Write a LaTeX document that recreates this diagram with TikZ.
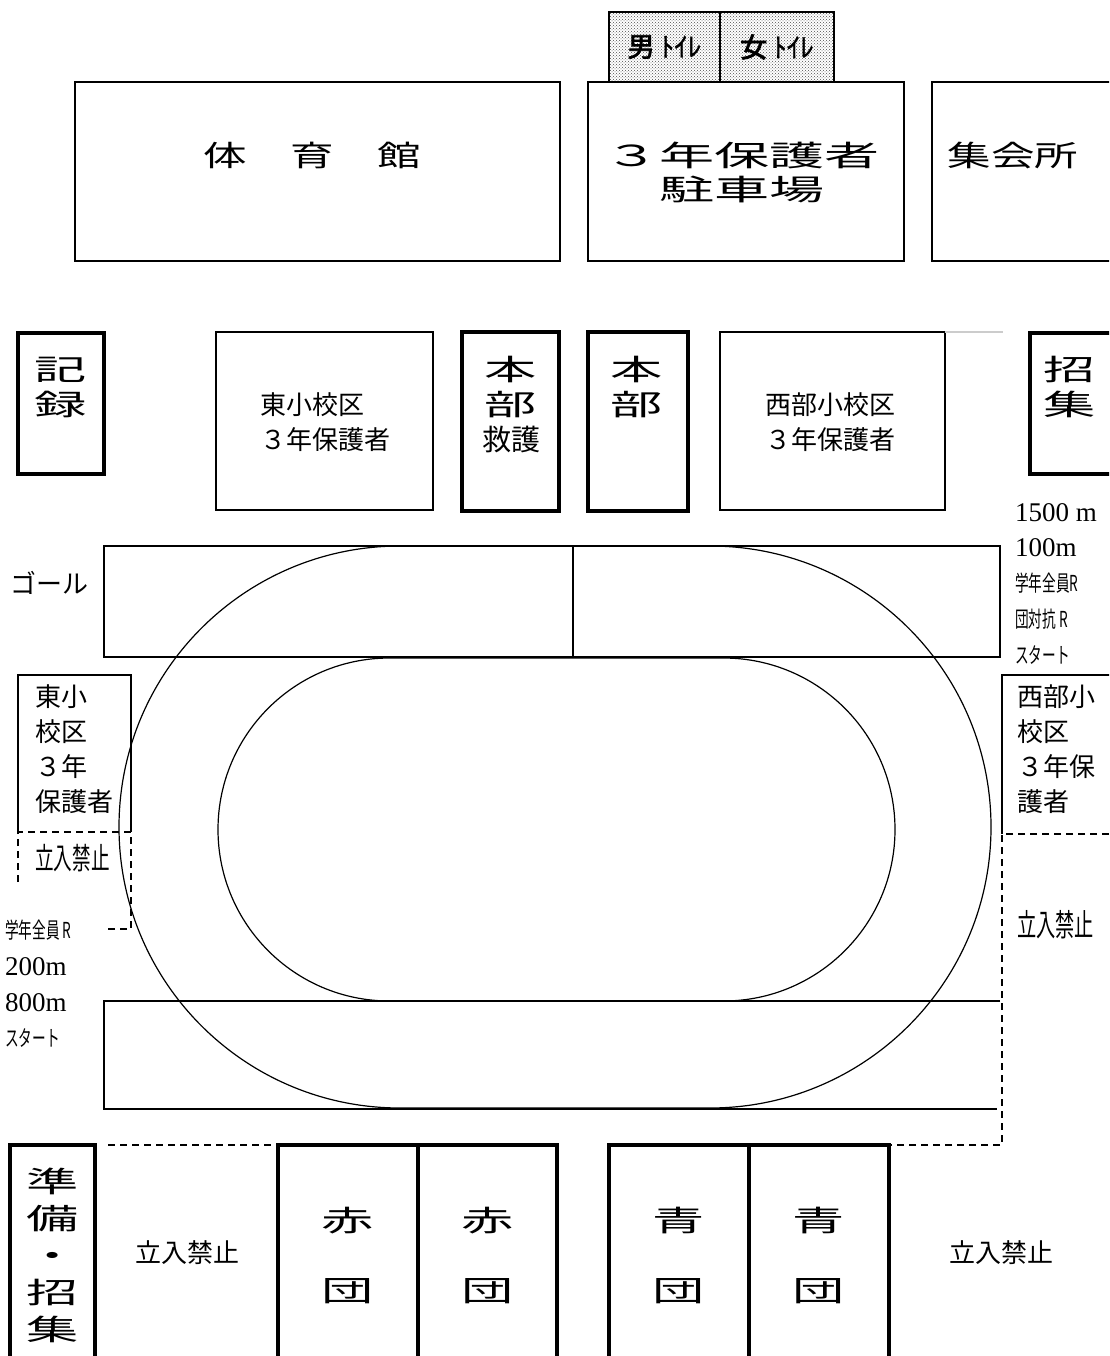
\documentclass[tikz,border=0pt]{standalone}
\usepackage{fontspec}
\setmainfont{Liberation Serif}
\newfontfamily\jp{Noto Sans CJK JP}
\newfontfamily\jpwide[FakeStretch=1.8]{Noto Sans CJK JP}
\newfontfamily\jpxwide[FakeStretch=1.9]{Noto Sans CJK JP}
\newfontfamily\jpmid[FakeStretch=1.5]{Noto Sans CJK JP}
\newfontfamily\jpslim[FakeStretch=0.62]{Noto Sans CJK JP}
\newfontfamily\jpbold[FakeBold=3]{Noto Sans CJK JP}
\newfontfamily\jpsemi[FakeBold=1.2]{Noto Sans CJK JP}
\usetikzlibrary{positioning, patterns}

\begin{document}
\begin{tikzpicture}[x=1pt,y=-1pt,
    room/.style={draw,line width=2pt,outer sep=0pt,inner sep=0pt,anchor=north west},
    booth/.style={room,line width=4pt,align=center,font=\jpwide\fontsize{29}{35}\selectfont},
    wc/.style={room,pattern=crosshatch dots,pattern color=black!70,font=\jpsemi\fontsize{27}{30}\selectfont},
    zone/.style={line width=2pt,dash pattern=on 7pt off 5pt},
    lane/.style={line width=1.2pt},
    big/.style={font=\jpwide\fontsize{29}{35}\selectfont,align=center,inner sep=0pt},
    wide/.style={font=\jpmid\fontsize{29}{34}\selectfont,align=center,inner sep=0pt},
    txt/.style={font=\jp\fontsize{26}{35}\selectfont,align=left,inner sep=0pt},
    slim/.style={font=\jpslim\fontsize{22}{35}\selectfont,inner sep=0pt,anchor=west},
    dist/.style={font=\fontsize{27}{35}\selectfont,inner sep=0pt,anchor=west}]
\useasboundingbox (0,0) rectangle (1109,1356);
\clip (0,0) rectangle (1109,1356);

\node[wc,minimum width=111pt,minimum height=70pt] (mwc) at (609,12) {{\jpbold 男} ﾄｲﾚ};
\node[wc,minimum width=114pt,minimum height=70pt] (fwc) [right=0pt of mwc] {{\jpbold 女} ﾄｲﾚ};

\node[room,minimum width=485pt,minimum height=179pt] (gym) at (75,82) {};
\node[wide] (gymlabel) at (312,155) {体　育　館};
\node[room,minimum width=316pt,minimum height=179pt] (park) at (588,82) {};
\node[big,align=left,anchor=west,font=\jpxwide\fontsize{29}{34}\selectfont] (parklabel) at (604,172) {３年保護者\\　駐車場};
\node[room,minimum width=200pt,minimum height=179pt] (hall) at (932,82) {};
\node[wide] (halllabel) at (1013,155) {集会所};

\node[booth,minimum width=86pt,minimum height=141pt] (rec) at (18,333) {};
\node[big] (reclabel) at (61,387) {記\\録};
\node[room,minimum width=217pt,minimum height=178pt] (east) at (216,332) {};
\node[txt,anchor=west] (eastlabel) at (260,422) {東小校区\\３年保護者};
\node[booth,minimum width=97pt,minimum height=179pt] (hqa) at (462,332) {};
\node[big] (hqalabel) at (511,405) {本\\部\\{\jp 救護}};
\node[booth,minimum width=100pt,minimum height=179pt] (hqb) at (588,332) {};
\node[big] (hqblabel) at (637,387) {本\\部};
\node[room,minimum width=225pt,minimum height=178pt] (west) at (720,332) {};
\node[txt,anchor=west] (westlabel) at (765,422) {西部小校区\\３年保護者};
\draw[gray!40,line width=2pt] (west.north east) -- +(58,0);
\node[booth,minimum width=100pt,minimum height=141pt] (call) at (1030,333) {};
\node[big] (calllabel) at (1070,387) {招\\集};

\node[dist] (d1500) at (1015,513) {1500 m};
\node[dist] (d100) at (1015,548) {100m};
\node[slim] (allr) at (1015,583) {学年全員R};
\node[slim] (teamr) at (1015,619) {団対抗 R};
\node[slim] (starta) at (1015,655) {スタート};

\node[room,minimum width=896pt,minimum height=111pt] (goal) at (104,546) {};
\draw[line width=2pt] (573,546) -- (573,657);
\node[txt] (goallabel) at (49,583) {ゴール};
\draw[line width=2pt] (1000,1001) -- (104,1001) -- (104,1109) -- (997,1109);
\draw[lane,rounded corners=281pt] (119,546) rectangle (991,1108);
\draw[lane,rounded corners=171.5pt] (218,658) rectangle (895,1001);

\draw[line width=2pt] (18,832) -- (18,675) -- (131,675) -- (131,832);
\draw[zone] (18,882) -- (18,832) -- (131,832) -- (131,929) -- (108,929);
\node[txt,anchor=west] (eastside) at (35,749.5) {東小\\校区\\３年\\保護者};
\node[slim,font=\jpslim\fontsize{30}{35}\selectfont] (keepouta) at (35,858) {立入禁止};
\node[slim] (allrb) at (5,930) {学年全員 R};
\node[dist] (d200) at (5,967) {200m};
\node[dist] (d800) at (5,1003) {800m};
\node[slim] (startb) at (5,1038) {スタート};

\draw[line width=2pt] (1002,834) -- (1002,675) -- (1115,675);
\draw[zone] (1109,834) -- (1002,834) -- (1002,1145) -- (889,1145);
\node[txt,anchor=west] (westside) at (1017,749.5) {西部小\\校区\\３年保\\護者};
\node[slim,font=\jpslim\fontsize{31}{35}\selectfont] (keepoutb) at (1017,925) {立入禁止};

\draw[zone] (108,1145) -- (278,1145);
\node[booth,minimum width=85pt,minimum height=220pt,font=\jpwide\fontsize{29}{37}\selectfont] (prep) at (10,1145) {準\\備\\・\\招\\集};
\node[txt,align=center] (keepoutc) at (187,1253) {立入禁止};
\node[booth,minimum width=140pt,minimum height=220pt] (reda) at (278,1145) {赤\\[35pt]団};
\node[booth,minimum width=139pt,minimum height=220pt] (redb) [right=0pt of reda] {赤\\[35pt]団};
\node[booth,minimum width=140pt,minimum height=220pt] (bluea) at (609,1145) {青\\[35pt]団};
\node[booth,minimum width=140pt,minimum height=220pt] (blueb) [right=0pt of bluea] {青\\[35pt]団};
\node[txt,align=center] (keepoutd) at (1001,1253) {立入禁止};
\end{tikzpicture}
\end{document}
